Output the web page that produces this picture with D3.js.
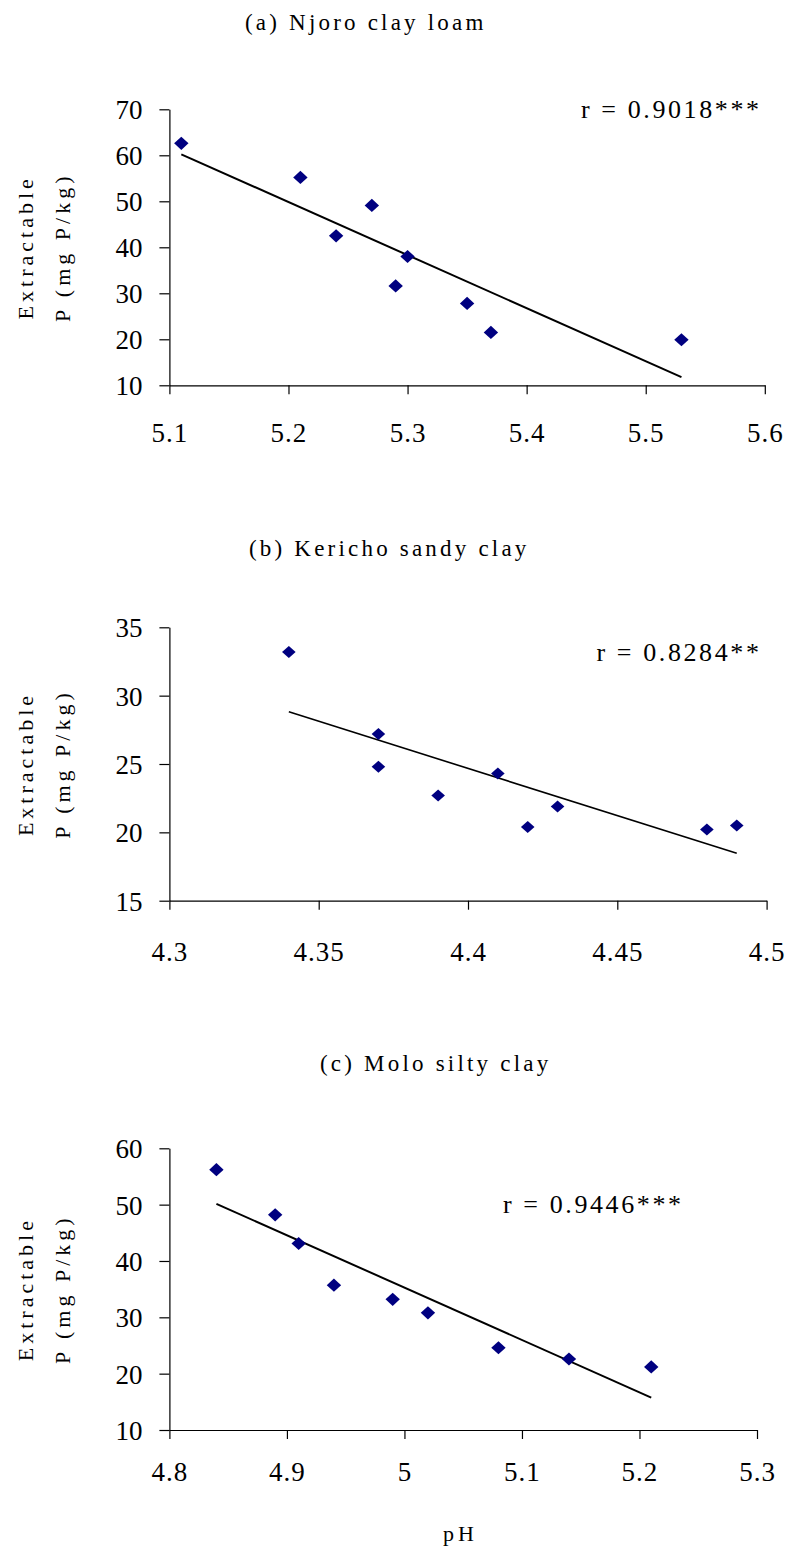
<!DOCTYPE html>
<html><head><meta charset="utf-8">
<script src="https://cdn.jsdelivr.net/npm/d3@7"></script>
<style>
body{margin:0;background:#fff}
svg{display:block}
text{font-family:"Liberation Serif","Times New Roman",serif;fill:#000}
</style>
</head><body>
<svg id="chart" width="786" height="1550"></svg>
<script>
// ---------------- data ----------------
const titles = ["(a) Njoro clay loam", "(b) Kericho sandy clay", "(c) Molo silty clay"];
const rLabels = ["r = 0.9018***", "r = 0.8284**", "r = 0.9446***"];
const yLabelLine1 = "Extractable";
const yLabelLine2 = "P (mg P/kg)";
const xLabel = "pH";

const aPH = [5.11, 5.21, 5.24, 5.27, 5.30, 5.29, 5.35, 5.37, 5.53];
const aP  = [62.6, 55.2, 42.5, 49.1, 38.0, 31.6, 27.8, 21.5, 19.9];
const bPH = [4.34, 4.37, 4.37, 4.39, 4.41, 4.42, 4.43, 4.48, 4.49];
const bP  = [33.2, 27.2, 24.8, 22.7, 24.3, 20.4, 21.9, 20.2, 20.5];
const cPH = [4.84, 4.89, 4.91, 4.94, 4.99, 5.02, 5.08, 5.14, 5.21];
const cP  = [56.2, 48.2, 43.1, 35.7, 33.2, 30.8, 24.6, 22.6, 21.2];

const aXTicks = [5.1, 5.2, 5.3, 5.4, 5.5, 5.6];
const aYTicks = [10, 20, 30, 40, 50, 60, 70];
const bXTicks = [4.3, 4.35, 4.4, 4.45, 4.5];
const bYTicks = [15, 20, 25, 30, 35];
const cXTicks = [4.8, 4.9, 5, 5.1, 5.2, 5.3];
const cYTicks = [10, 20, 30, 40, 50, 60];

// ---------------- layout ----------------
const panels = [
  {xs: aPH, ys: aP, xt: aXTicks, yt: aYTicks, xr: [169.4, 764.8], yr: [385.3, 109.3],
   titleX: 245, titleY: 30, rX: 581, rY: 118.3, xlabY: 442, lw: 2, mw: 7.2, mh: 6.6},
  {xs: bPH, ys: bP, xt: bXTicks, yt: bYTicks, xr: [169.4, 766.6], yr: [900.7, 627.3],
   titleX: 249, titleY: 555.7, rX: 596.5, rY: 660.7, xlabY: 961, lw: 1.6, mw: 6.8, mh: 6},
  {xs: cPH, ys: cP, xt: cXTicks, yt: cYTicks, xr: [169.4, 757], yr: [1430, 1148.3],
   titleX: 320, titleY: 1070.7, rX: 503, rY: 1213.3, xlabY: 1481, lw: 2, mw: 7.2, mh: 6.6}
];

const svg = d3.select("#chart");

function linreg(xs, ys) {
  const mx = d3.mean(xs), my = d3.mean(ys);
  let sxy = 0, sxx = 0;
  xs.forEach((x, i) => { sxy += (x - mx) * (ys[i] - my); sxx += (x - mx) * (x - mx); });
  const b = sxy / sxx;
  return x => my + b * (x - mx);
}

panels.forEach((p, k) => {
  const g = svg.append("g");
  const x = d3.scaleLinear().domain([p.xt[0], p.xt[p.xt.length - 1]]).range(p.xr);
  const y = d3.scaleLinear().domain([p.yt[0], p.yt[p.yt.length - 1]]).range(p.yr);

  // title
  g.append("text").attr("x", p.titleX).attr("y", p.titleY)
    .style("font-size", "23px").style("letter-spacing", "3.2px")
    .text(titles[k]);

  // y axis
  const yAx = g.append("g").attr("transform", `translate(${p.xr[0]},0)`)
    .call(d3.axisLeft(y).tickValues(p.yt).tickSize(10).tickSizeOuter(0).tickFormat(d => String(d)));
  yAx.selectAll("text")
    .style("font-size", "27px")
    .attr("dy", null).attr("y", 9.5)
    .attr("x", -27);

  // x axis
  const xAx = g.append("g").attr("transform", `translate(0,${p.yr[0]})`)
    .call(d3.axisBottom(x).tickValues(p.xt).tickSize(9).tickSizeOuter(0).tickFormat(d => String(d)));
  xAx.selectAll("text")
    .style("font-size", "27px").style("letter-spacing", "1px")
    .attr("dy", null).attr("y", p.xlabY - p.yr[0]);

  [yAx, xAx].forEach(a => {
    a.select(".domain").attr("stroke", "#000").attr("stroke-width", 1.2);
    a.selectAll(".tick line").attr("stroke", "#000").attr("stroke-width", 1.2);
    a.attr("font-family", null).attr("font-size", null);
  });

  // y label (two rotated lines)
  const cy = (p.yr[0] + p.yr[1]) / 2;
  g.append("text").attr("transform", `translate(33,${cy}) rotate(-90)`)
    .attr("text-anchor", "middle").style("font-size", "22px").style("letter-spacing", "4px")
    .text(yLabelLine1);
  g.append("text").attr("transform", `translate(70,${cy}) rotate(-90)`)
    .attr("text-anchor", "middle").style("font-size", "22px").style("letter-spacing", "4px")
    .text(yLabelLine2);

  // regression line
  const f = linreg(p.xs, p.ys);
  const x0 = d3.min(p.xs), x1 = d3.max(p.xs);
  g.append("line")
    .attr("x1", x(x0)).attr("y1", y(f(x0)))
    .attr("x2", x(x1)).attr("y2", y(f(x1)))
    .attr("stroke", "#000").attr("stroke-width", p.lw);

  // points
  g.selectAll("path.pt").data(p.xs.map((v, i) => [v, p.ys[i]])).join("path")
    .attr("class", "pt")
    .attr("d", `M0,${-p.mh}L${p.mw},0L0,${p.mh}L${-p.mw},0Z`)
    .attr("transform", d => `translate(${x(d[0])},${y(d[1])})`)
    .attr("fill", "#000080");

  // r label
  g.append("text")
    .attr("x", p.rX).attr("y", p.rY)
    .style("font-size", "26px").style("letter-spacing", "2.6px")
    .text(rLabels[k]);
});

// x label
svg.append("text").attr("x", 443).attr("y", 1541)
  .style("font-size", "22px").style("letter-spacing", "4px").text(xLabel);
</script>
</body></html>
